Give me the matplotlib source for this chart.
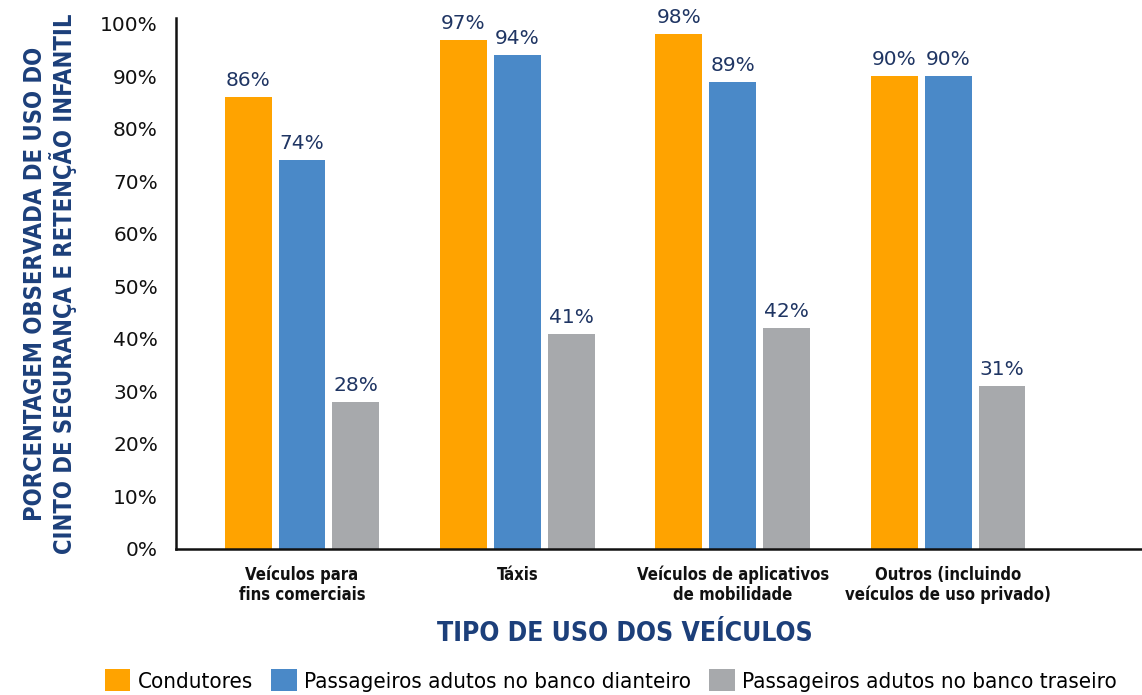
import matplotlib
matplotlib.use('Agg')
import matplotlib.pyplot as plt
import numpy as np

# data
categories = ['Veículos para\nfins comerciais', 'Táxis',
              'Veículos de aplicativos\nde mobilidade',
              'Outros (incluindo\nveículos de uso privado)']
series_names = ['Condutores', 'Passageiros adutos no banco dianteiro',
                'Passageiros adutos no banco traseiro']
condutores = [86, 97, 98, 90]
dianteiro = [74, 94, 89, 90]
traseiro = [28, 41, 42, 31]
yticks = [0, 10, 20, 30, 40, 50, 60, 70, 80, 90, 100]

colors = ['#FFA300', '#4A89C8', '#A7A9AC']
navy = '#1C3F7A'
label_navy = '#1F3563'
narrow = ['DejaVu Sans Condensed', 'DejaVu Sans']

fig = plt.figure(figsize=(11.42, 6.95), dpi=100)
fig.patch.set_facecolor('white')
ax = fig.add_axes([0.1541, 0.2101, 0.8459, 0.764])

x = np.arange(len(categories))
width = 0.218
step = 0.25
bars = []
for i, (vals, col) in enumerate(zip([condutores, dianteiro, traseiro], colors)):
    b = ax.bar(x + (i - 1) * step, vals, width, color=col, label=series_names[i])
    bars.append(b)
    for rect, v in zip(b, vals):
        ax.annotate(f'{v}%', (rect.get_x() + rect.get_width() / 2, v),
                    xytext=(0, 5), textcoords='offset points',
                    ha='center', va='bottom', fontsize=14.5, color=label_navy)

ax.set_xlim(-0.585, 3.90)
ax.set_ylim(0, 101.1)
ax.set_yticks(yticks)
ax.set_yticklabels([f'{t}%' for t in yticks], fontsize=14.5, color='#111111')
ax.set_xticks(x)
ax.set_xticklabels(categories, fontsize=12, color='#111111', linespacing=1.1,
                   family=narrow, stretch='condensed', fontweight='bold')
ax.tick_params(axis='y', length=0, pad=13)
ax.tick_params(axis='x', length=0, pad=12)

for s in ['top', 'right']:
    ax.spines[s].set_visible(False)
for s in ['left', 'bottom']:
    ax.spines[s].set_linewidth(1.8)
    ax.spines[s].set_color('#111111')

# y axis title in two lines
fig.text(0.031, 0.592, 'PORCENTAGEM OBSERVADA DE USO DO', rotation=90,
         ha='center', va='center', fontsize=17, fontweight='bold',
         color=navy, family=narrow, stretch='condensed')
fig.text(0.055, 0.592, 'CINTO DE SEGURANÇA E RETENÇÃO INFANTIL', rotation=90,
         ha='center', va='center', fontsize=17, fontweight='bold',
         color=navy, family=narrow, stretch='condensed')

fig.text(0.547, 0.088, 'TIPO DE USO DOS VEÍCULOS', ha='center', va='center',
         fontsize=19, fontweight='bold', color=navy, family=narrow,
         stretch='condensed')

leg = fig.legend(handles=bars, labels=series_names, loc='center',
                 bbox_to_anchor=(0.535, 0.021), ncol=3, frameon=False,
                 prop={'family': narrow, 'size': 16, 'stretch': 'condensed'},
                 handlelength=1.15, handleheight=1.1, handletextpad=0.35,
                 columnspacing=0.8, borderpad=0, borderaxespad=0)

fig.savefig('out.png', dpi=100, facecolor='white')
